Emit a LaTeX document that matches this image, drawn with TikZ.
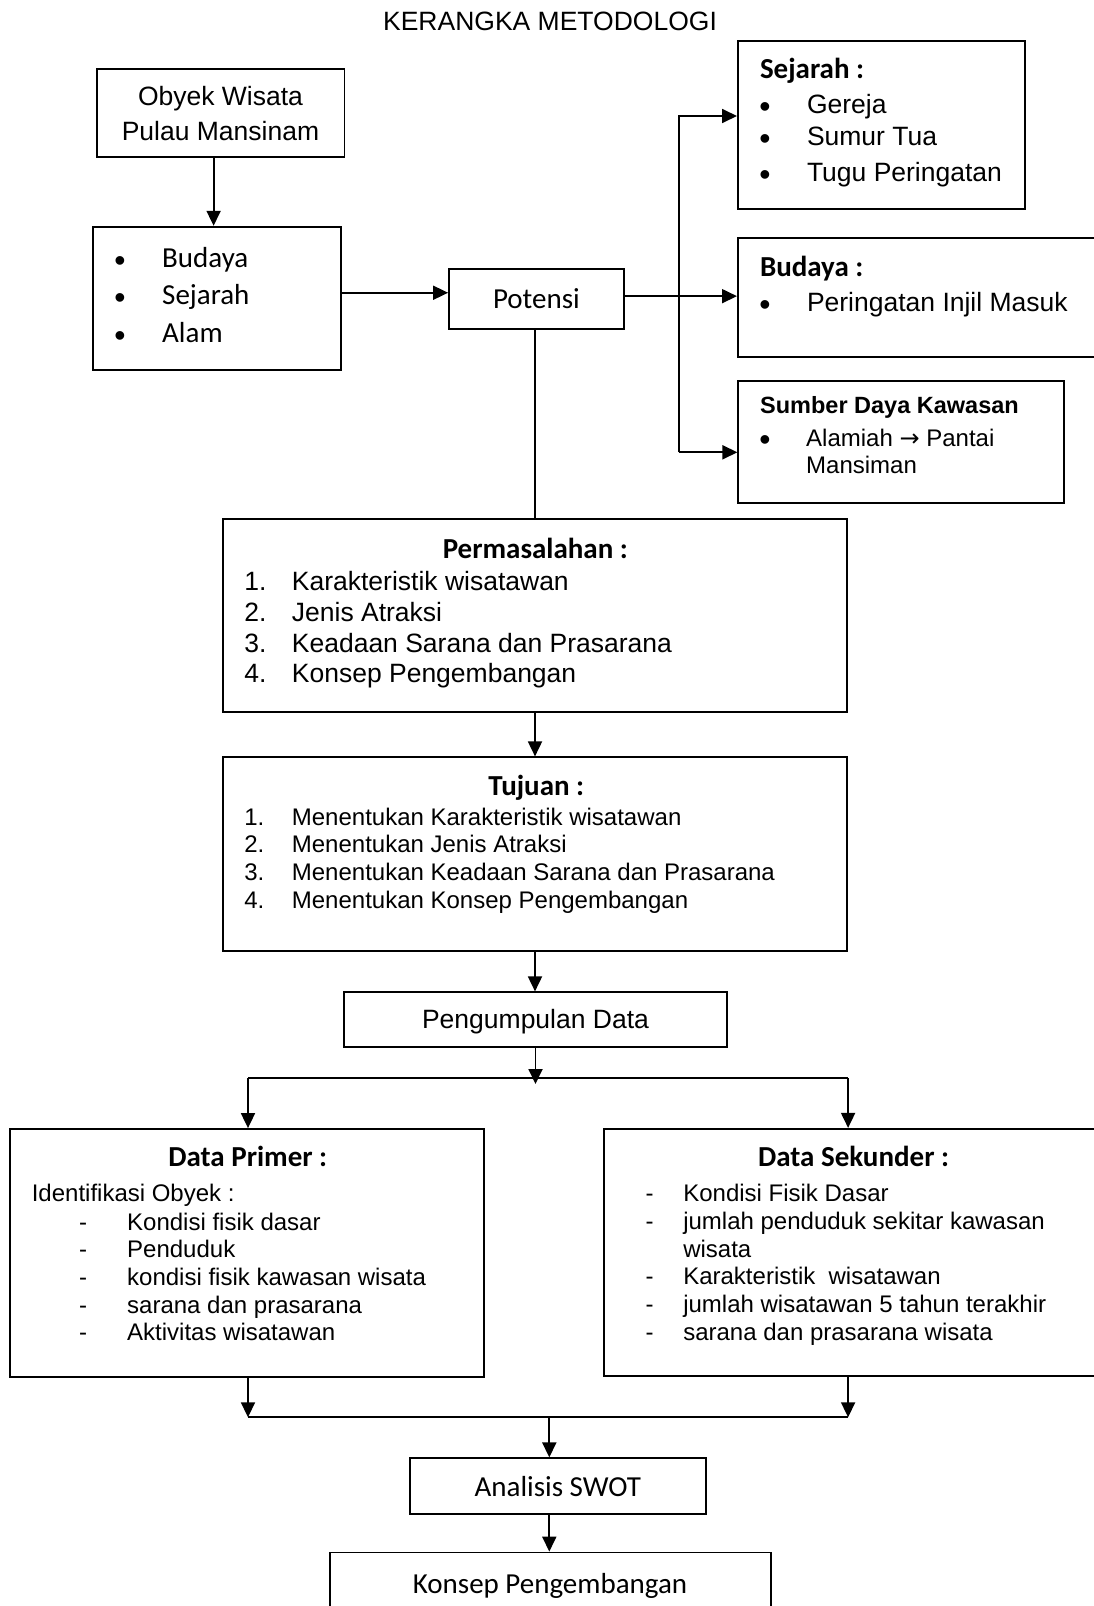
\documentclass[tikz,border=0pt]{standalone}
\usepackage{fontspec}
\setmainfont{Liberation Sans}
\newfontfamily\calf{Carlito}
\newfontfamily\djv{DejaVu Sans}
\usetikzlibrary{arrows.meta,calc}
\newcommand\szA{\fontsize{26.5}{30}\selectfont}
\newcommand\szB{\fontsize{24}{27}\selectfont}
\newcommand\szC{\calf\fontsize{29}{33}\selectfont}
\newcommand\szCb{\calf\bfseries\fontsize{29}{33}\selectfont}
\newcommand\szAb{\bfseries\fontsize{23.5}{27}\selectfont}
\tikzset{
  box/.style={draw, line width=1.8pt, rectangle, inner sep=0pt},
  ln/.style={line width=1.8pt},
  arr/.style={line width=1.8pt, -{Triangle[length=15pt,width=14pt]}},
  tx/.style={anchor=base west, inner sep=0pt},
  tc/.style={anchor=base, inner sep=0pt},
  bul/.style={anchor=base, inner sep=0pt, font=\fontsize{32}{32}\selectfont},
}
\begin{document}
\begin{tikzpicture}[x=1pt,y=-1pt]
\useasboundingbox (0,0) rectangle (1094,1606);
% boxes
\node[box, minimum width=247.6, minimum height=87.7] (obyek) at (220.6,112.85) {};
\node[box, minimum width=247.7, minimum height=143.3] (budayaL) at (217.15,298.35) {};
\node[box, minimum width=174.7, minimum height=60.3] (potensi) at (536.35,299.15) {};
\node[box, minimum width=287.3, minimum height=167.7] (sejarah) at (881.55,124.85) {};
\node[box, minimum width=362.1, minimum height=118.4] (budayaR) at (918.95,297.5) {};
\node[box, minimum width=326, minimum height=122.6] (sumber) at (901.3,442) {};
\node[box, minimum width=623.8, minimum height=192.4] (masalah) at (535,615.5) {};
\node[box, minimum width=623.8, minimum height=193.4] (tujuan) at (535,854) {};
\node[box, minimum width=382.4, minimum height=54.4] (kumpul) at (535.5,1019.5) {};
\node[box, minimum width=474.2, minimum height=247.7] (primer) at (246.9,1252.85) {};
\node[box, minimum width=495.7, minimum height=247.4] (sekunder) at (852.15,1252.5) {};
\node[box, minimum width=296, minimum height=56] (swot) at (558,1486.3) {};
\node[box, minimum width=440.7, minimum height=72.5] (konsep) at (550.35,1588.75) {};

% title
\node[tc, font=\szA] (ttl) at (550,30) {KERANGKA METODOLOGI};

% obyek
\node[tc, font=\szA] (ob1) at (220.5,105) {Obyek Wisata};
\node[tc, font=\szA] (ob2) at (220.5,140) {Pulau Mansinam};

% budaya list
\node[bul] (blb1) at (120,271) {•};
\node[bul] (blb2) at (120,308) {•};
\node[bul] (blb3) at (120,346) {•};
\node[tx, font=\szC] (bl1) at (162,267) {Budaya};
\node[tx, font=\szC] (bl2) at (162,304) {Sejarah};
\node[tx, font=\szC] (bl3) at (162,342) {Alam};

% potensi
\node[tc, font=\szC] (pt) at (536.4,308.3) {Potensi};

% sejarah box
\node[tx, font=\szCb] (sj0) at (759.8,78.3) {Sejarah :};
\node[bul] (sjb1) at (765,117.3) {•};
\node[bul] (sjb2) at (765,149.7) {•};
\node[bul] (sjb3) at (765,185.7) {•};
\node[tx, font=\szA] (sj1) at (806.8,113.3) {Gereja};
\node[tx, font=\szA] (sj2) at (806.8,145.7) {Sumur Tua};
\node[tx, font=\szA] (sj3) at (806.8,181.7) {Tugu Peringatan};

% budaya right
\node[tx, font=\szCb] (br0) at (759.8,276.7) {Budaya :};
\node[bul] (brb1) at (765,315.7) {•};
\node[tx, font=\szA] (br1) at (806.8,311.7) {Peringatan Injil Masuk};

% sumber
\node[tx, font=\szAb] (sd0) at (760,413.3) {Sumber Daya Kawasan};
\node[bul] (sdb1) at (765,450.7) {•};
\node[tx, font=\szB] (sd1) at (806,446.7) {Alamiah {\djv →} Pantai};
\node[tx, font=\szB] (sd2) at (806,473.3) {Mansiman};

% permasalahan
\node[tc, font=\szCb] (pm0) at (535.3,558.3) {Permasalahan :};
\node[tx, font=\szA] (pmn1) at (244.2,590.7) {1.};
\node[tx, font=\szA] (pmn2) at (244.2,621.4) {2.};
\node[tx, font=\szA] (pmn3) at (244.2,652.1) {3.};
\node[tx, font=\szA] (pmn4) at (244.2,682.8) {4.};
\node[tx, font=\szA] (pm1) at (291.7,590.7) {Karakteristik wisatawan};
\node[tx, font=\szA] (pm2) at (291.7,621.4) {Jenis Atraksi};
\node[tx, font=\szA] (pm3) at (291.7,652.1) {Keadaan Sarana dan Prasarana};
\node[tx, font=\szA] (pm4) at (291.7,682.8) {Konsep Pengembangan};

% tujuan
\node[tc, font=\szCb] (tj0) at (536.3,795) {Tujuan :};
\node[tx, font=\szB] (tjn1) at (244.2,825) {1.};
\node[tx, font=\szB] (tjn2) at (244.2,852.7) {2.};
\node[tx, font=\szB] (tjn3) at (244.2,880.4) {3.};
\node[tx, font=\szB] (tjn4) at (244.2,908.1) {4.};
\node[tx, font=\szB] (tj1) at (291.7,825) {Menentukan Karakteristik wisatawan};
\node[tx, font=\szB] (tj2) at (291.7,852.7) {Menentukan Jenis Atraksi};
\node[tx, font=\szB] (tj3) at (291.7,880.4) {Menentukan Keadaan Sarana dan Prasarana};
\node[tx, font=\szB] (tj4) at (291.7,908.1) {Menentukan Konsep Pengembangan};

% pengumpulan
\node[tc, font=\szA] (pd) at (535.5,1028.3) {Pengumpulan Data};

% data primer
\node[tc, font=\szCb] (dp0) at (247.8,1166.7) {Data Primer :};
\node[tx, font=\szB] (dpi) at (31.6,1201.7) {Identifikasi Obyek :};
\node[tx, font=\szB] (dpd1) at (79,1230) {-};
\node[tx, font=\szB] (dpd2) at (79,1257.7) {-};
\node[tx, font=\szB] (dpd3) at (79,1285.4) {-};
\node[tx, font=\szB] (dpd4) at (79,1313.1) {-};
\node[tx, font=\szB] (dpd5) at (79,1340.8) {-};
\node[tx, font=\szB] (dp1) at (127,1230) {Kondisi fisik dasar};
\node[tx, font=\szB] (dp2) at (127,1257.7) {Penduduk};
\node[tx, font=\szB] (dp3) at (127,1285.4) {kondisi fisik kawasan wisata};
\node[tx, font=\szB] (dp4) at (127,1313.1) {sarana dan prasarana};
\node[tx, font=\szB] (dp5) at (127,1340.8) {Aktivitas wisatawan};

% data sekunder
\node[tc, font=\szCb] (ds0) at (853.6,1166.7) {Data Sekunder :};
\node[tx, font=\szB] (dsd1) at (645.3,1201.7) {-};
\node[tx, font=\szB] (dsd2) at (645.3,1229.4) {-};
\node[tx, font=\szB] (dsd4) at (645.3,1284.8) {-};
\node[tx, font=\szB] (dsd5) at (645.3,1312.5) {-};
\node[tx, font=\szB] (dsd6) at (645.3,1340.2) {-};
\node[tx, font=\szB] (ds1) at (683.1,1201.7) {Kondisi Fisik Dasar};
\node[tx, font=\szB] (ds2) at (683.1,1229.4) {jumlah penduduk sekitar kawasan};
\node[tx, font=\szB] (ds3) at (683.1,1257.1) {wisata};
\node[tx, font=\szB] (ds4) at (683.1,1284.8) {Karakteristik\ \ wisatawan};
\node[tx, font=\szB] (ds5) at (683.1,1312.5) {jumlah wisatawan 5 tahun terakhir};
\node[tx, font=\szB] (ds6) at (683.1,1340.2) {sarana dan prasarana wisata};

% swot, konsep
\node[tc, font=\szC] (sw) at (557.8,1496.7) {Analisis SWOT};
\node[tc, font=\szC] (kp) at (550,1593.3) {Konsep Pengembangan};

% connectors
\draw[arr] ([xshift=-7pt]obyek.south) -- ([xshift=-7pt]obyek.south |- budayaL.north);
\draw[arr] ([yshift=5.6pt]budayaL.east) -- ([yshift=5.6pt]budayaL.east -| potensi.west);
\draw[arr] ([yshift=3pt]potensi.east) -- ([yshift=3pt]potensi.east -| budayaR.west);
\coordinate (tt) at (678.9,116);
\coordinate (tb) at (678.9,452.3);
\draw[arr] (tb) -- (tt) -- (tt -| sejarah.west);
\draw[arr] (tb) -- (tb -| sumber.west);
\draw[ln] (potensi.south -| masalah.north) -- (masalah.north);
\draw[arr] (masalah.south) -- (tujuan.north);
\draw[arr] (tujuan.south) -- (tujuan.south |- kumpul.north);
\coordinate (sl) at (248,1078.3);
\coordinate (sr) at (848.1,1078.3);
\coordinate (sm) at (535.5,1084);
\draw[ln] (sl) -- (sr);
\draw[arr] (kumpul.south) -- (sm);
\draw[arr] (sl) -- (sl |- primer.north);
\draw[arr] (sr) -- (sr |- sekunder.north);
\coordinate (jl) at (248,1417.3);
\coordinate (jr) at (848.1,1417.3);
\coordinate (jm) at (549.3,1417.3);
\draw[ln] (jl) -- (jr);
\draw[arr] (primer.south -| jl) -- (jl);
\draw[arr] (sekunder.south -| jr) -- (jr);
\draw[arr] (jm) -- (jm |- swot.north);
\draw[arr] (swot.south -| jm) -- (jm |- konsep.north);
\end{tikzpicture}
\end{document}
